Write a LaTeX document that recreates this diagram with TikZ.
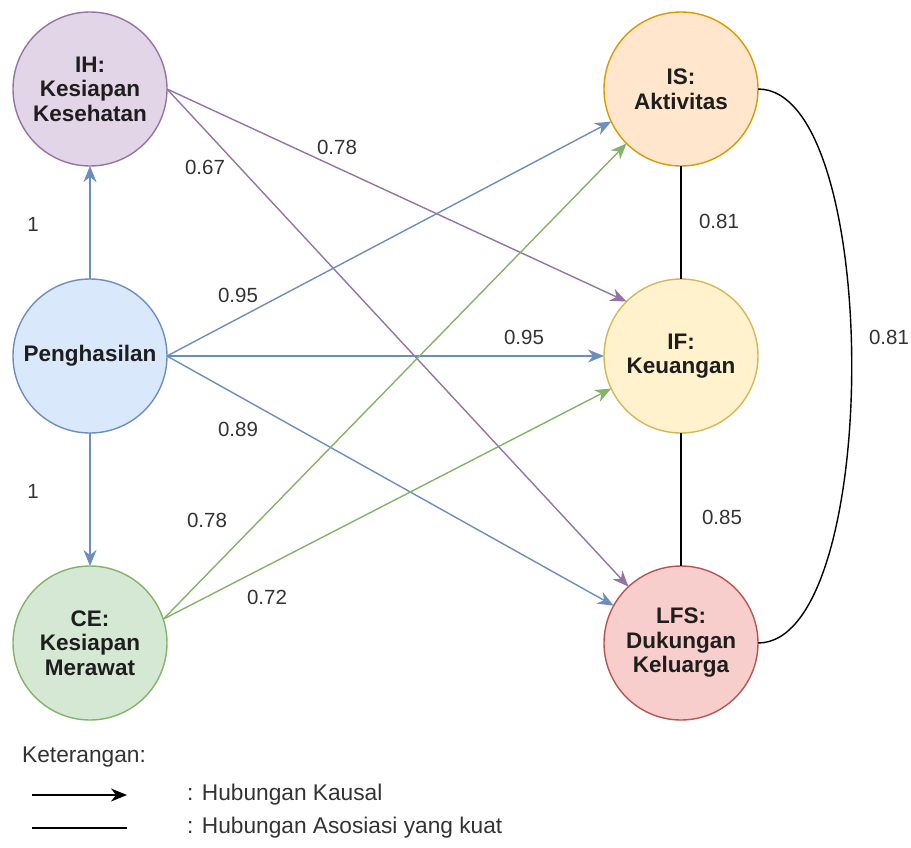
\documentclass[tikz,border=0pt]{standalone}
\usepackage{fontspec}
\setmainfont{Liberation Sans}
\usetikzlibrary{arrows.meta}

% fills and strokes of the six constructs
\definecolor{ihFill}{HTML}{E1D5E7}\definecolor{ihDraw}{HTML}{9673A6}
\definecolor{penFill}{HTML}{DAE8FC}\definecolor{penDraw}{HTML}{6C8EBF}
\definecolor{ceFill}{HTML}{D5E8D4}\definecolor{ceDraw}{HTML}{82B366}
\definecolor{isFill}{HTML}{FFE6CC}\definecolor{isDraw}{HTML}{D79B00}
\definecolor{ifFill}{HTML}{FFF2CC}\definecolor{ifDraw}{HTML}{D6B656}
\definecolor{lfsFill}{HTML}{F8CECC}\definecolor{lfsDraw}{HTML}{B85450}
\definecolor{textdark}{HTML}{1E1E1E}
\definecolor{labeltext}{HTML}{333333}

\begin{document}
\begin{tikzpicture}[x=1pt,y=-1pt,
  latent/.style={circle, draw, line width=1.4pt, minimum size=154pt,
    inner sep=0pt, outer sep=0pt, align=center,
    font=\fontsize{22.5}{24.5}\selectfont\bfseries, text=textdark},
  causal/.style={line width=1.4pt, -{Stealth[length=16pt,width=13pt,inset=5pt]}},
  assoc/.style={line width=1.4pt, draw=black},
  coef/.style={font=\fontsize{20.5}{24}\selectfont, text=labeltext, inner sep=0pt},
  legendtext/.style={font=\fontsize{22.7}{26}\selectfont, text=labeltext,
    anchor=west, inner sep=0pt}]
\useasboundingbox (0,0) rectangle (911,847);

% constructs
\node[latent, fill=ihFill, draw=ihDraw]   (ih)  at (90,89)   {IH:\\Kesiapan\\Kesehatan};
\node[latent, fill=penFill, draw=penDraw] (pen) at (90,356)  {Penghasilan};
\node[latent, fill=ceFill, draw=ceDraw]   (ce)  at (90,643)  {CE:\\Kesiapan\\Merawat};
\node[latent, fill=isFill, draw=isDraw]   (is)  at (681,89)  {IS:\\Aktivitas};
\node[latent, fill=ifFill, draw=ifDraw]   (ifk) at (681,356) {IF:\\Keuangan};
\node[latent, fill=lfsFill, draw=lfsDraw] (lfs) at (681,643) {LFS:\\Dukungan\\Keluarga};

% causal paths
\draw[causal, draw=penDraw] (pen.north) -- (ih.south);
\draw[causal, draw=penDraw] (pen.south) -- (ce.north);
\draw[causal, draw=ihDraw] (ih.east) -- (ifk.135);
\draw[causal, draw=ihDraw] (ih.east) -- (lfs.133);
\draw[causal, draw=penDraw] (pen.east) -- (is.205);
\draw[causal, draw=penDraw] (pen.east) -- (ifk.west);
\draw[causal, draw=penDraw] (pen.east) -- (lfs.151);
\draw[causal, draw=ceDraw] (ce.18) -- (is.225);
\draw[causal, draw=ceDraw] (ce.18) -- (ifk.205);

% associations
\draw[assoc] (is.south) -- (ifk.north);
\draw[assoc] (ifk.south) -- (lfs.north);
\draw[assoc] (is.east) .. controls +(125,0) and +(125,0) .. (lfs.east);

% coefficients
\node[coef] (c1)  at (33,224)  {1};
\node[coef] (c2)  at (33,491)  {1};
\node[coef] (c3)  at (205,167) {0.67};
\node[coef] (c4)  at (337,147) {0.78};
\node[coef] (c5)  at (238,295) {0.95};
\node[coef] (c6)  at (524,337) {0.95};
\node[coef] (c7)  at (238,429) {0.89};
\node[coef] (c8)  at (207,520) {0.78};
\node[coef] (c9)  at (267,597) {0.72};
\node[coef] (c10) at (719,221) {0.81};
\node[coef] (c11) at (722,517) {0.85};
\node[coef] (c12) at (889,337) {0.81};

% legend
\node[legendtext] (key) at (22,757) {Keterangan:};
\coordinate (ka) at (32,795);
\coordinate (kb) at (127,795);
\coordinate (aa) at (32,828);
\coordinate (ab) at (127,828);
\draw[causal, draw=black] (ka) -- (kb);
\draw[assoc] (aa) -- (ab);
\node[legendtext] (kausal) at (187,795) {: Hubungan Kausal};
\node[legendtext] (asosiasi) at (187,828) {: Hubungan Asosiasi yang kuat};
\end{tikzpicture}
\end{document}
